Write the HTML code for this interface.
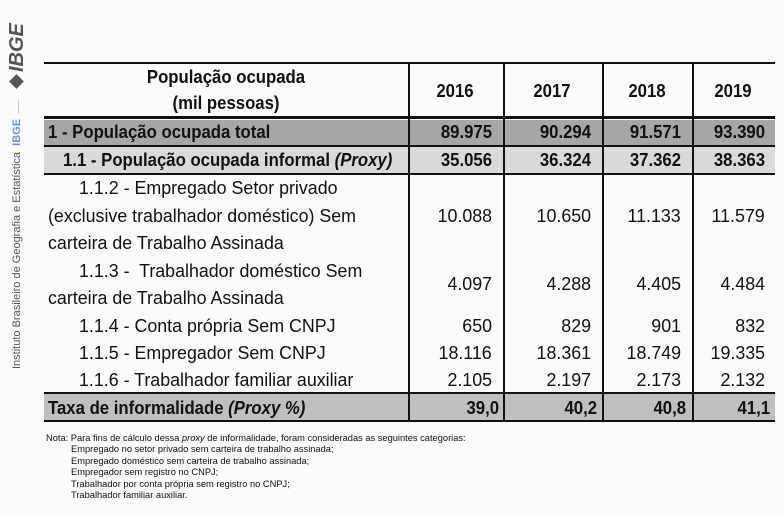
<!DOCTYPE html>
<html><head><meta charset="utf-8">
<style>
body{margin:0;width:784px;height:517px;background:#fbfbfb;position:relative;overflow:hidden;font-family:"Liberation Sans",sans-serif;color:#111}
.t{position:absolute;white-space:nowrap;font-size:18px;line-height:20px;transform:scaleX(0.99);transform-origin:left center}
.t.b{transform:scaleX(0.93)}
.r{transform-origin:right center !important;text-align:right}
.c{transform-origin:center center !important;text-align:center}
.b{font-weight:bold}
.ln{position:absolute;background:#111}
.fill{position:absolute}
.note{position:absolute;font-size:9.3px;line-height:11.4px;left:46px;white-space:nowrap;color:#111}
</style></head><body>
<div style="position:absolute;left:7px;top:88px;transform:rotate(-90deg);transform-origin:left top;font-weight:bold;font-style:italic;font-size:20px;line-height:20px;color:#555;width:80px;white-space:nowrap"><span style="display:inline-block;width:13px;height:13px;background:#555;transform:rotate(45deg) scale(0.8);margin-right:3px"></span>IBGE</div>
<div style="position:absolute;left:18px;top:100px;width:1px;height:14px;background:#ccc"></div>
<div style="position:absolute;left:10px;top:369px;transform:rotate(-90deg);transform-origin:left top;font-size:11px;line-height:14px;color:#555;white-space:nowrap"><span>Instituto Brasileiro de Geografia e Estatística</span>&nbsp;&nbsp;<span style="color:#7b8fc4;font-weight:bold">IBGE</span></div>

<div id="tbl"></div>

<div class="note" style="top:433px">Nota: Para fins de cálculo dessa <i>proxy</i> de informalidade, foram consideradas as seguintes categorias:<br>
<span style="padding-left:25px">Empregado no setor privado sem carteira de trabalho assinada;</span><br>
<span style="padding-left:25px">Empregado doméstico sem carteira de trabalho assinada;</span><br>
<span style="padding-left:25px">Empregador sem registro no CNPJ;</span><br>
<span style="padding-left:25px">Trabalhador por conta própria sem registro no CNPJ;</span><br>
<span style="padding-left:25px">Trabalhador familiar auxiliar.</span></div>

<script>
const years=["2016","2017","2018","2019"];
const total=["89.975","90.294","91.571","93.390"];
const informal=["35.056","36.324","37.362","38.363"];
const privado=["10.088","10.650","11.133","11.579"];
const domestico=["4.097","4.288","4.405","4.484"];
const contaPropria=["650","829","901","832"];
const empregador=["18.116","18.361","18.749","19.335"];
const familiar=["2.105","2.197","2.173","2.132"];
const taxa=["39,0","40,2","40,8","41,1"];

const T=document.getElementById('tbl');
const colL=[408,503,602,692,775];
const numR=[492,591,681,765];
function box(cls,x,y,w,h,bg,name){const d=document.createElement('div');d.className=cls;d.style.cssText=`left:${x}px;top:${y}px;width:${w}px;height:${h}px;`+(bg?`background:${bg};`:'');


T.appendChild(d);return d;}
function txt(s,x,cy,cls,name,html){const d=document.createElement('div');d.className='t '+(cls||'');
if(cls&&cls.includes('r')){d.style.right=(784-x)+'px';}else if(cls&&cls.includes('c')){d.style.left=(x-150)+'px';d.style.width='300px';}else d.style.left=x+'px';
d.style.top=(cy-10)+'px';if(html)d.innerHTML=s;else d.textContent=s;


T.appendChild(d);}
box('fill',44,120,731,26,'#a6a6a6','row-total-bg');
box('fill',44,147,731,27,'#d9d9d9','row-informal-bg');
box('fill',44,394,731,27,'#bfbfbf','row-taxa-bg');
box('ln',44,62,731,1.5,null,'top-border');
box('ln',44,116,731,3,null,'header-bottom-border');
box('ln',44,145,731,1.5,null,'row-line');
box('ln',44,173,731,1.5,null,'row-line');
box('ln',44,392,731,1.5,null,'row-line');
box('ln',44,420,731,1.5,null,'bottom-border');
colL.slice(0,4).forEach((x,i)=>{box('ln',x,62,1.5,359,null,'column-divider');});
txt('População ocupada',226,77,'c b','header-title');
txt('(mil pessoas)',226,103,'c b','header-subtitle');
const ycent=[455,552,647,733];
years.forEach((y,i)=>txt(y,ycent[i],91,'c b','year-header-'+y));
txt('1 - População ocupada total',48,132,'b','label-total');
txt('1.1 - População ocupada informal <i>(Proxy)</i>',63,160,'b','label-informal',true);
txt('1.1.2 - Empregado Setor privado',79,188,'','label-privado');
txt('(exclusive trabalhador doméstico) Sem',48,216,'','label-privado-2');
txt('carteira de Trabalho Assinada',48,243,'','label-privado-3');
txt('1.1.3 -&nbsp; Trabalhador doméstico Sem',79,271,'','label-domestico',true);
txt('carteira de Trabalho Assinada',48,298,'','label-domestico-2');
txt('1.1.4 - Conta própria Sem CNPJ',79,326,'','label-conta-propria');
txt('1.1.5 - Empregador Sem CNPJ',79,353,'','label-empregador');
txt('1.1.6 - Trabalhador familiar auxiliar',79,380,'','label-familiar');
txt('Taxa de informalidade <i>(Proxy %)</i>',48,408,'b','label-taxa',true);
function row(arr,cy,cls,name,right){arr.forEach((v,i)=>txt(v,(right||numR)[i],cy,'r '+cls,name+'-'+years[i]));}
row(total,132,'b','value-total');
row(informal,160,'b','value-informal');
row(privado,216,'','value-privado');
row(domestico,284,'','value-domestico');
row(contaPropria,326,'','value-conta-propria');
row(empregador,353,'','value-empregador');
row(familiar,380,'','value-familiar');
row(taxa,408,'b','value-taxa',[499,597,686,770]);
</script>
</body></html>
